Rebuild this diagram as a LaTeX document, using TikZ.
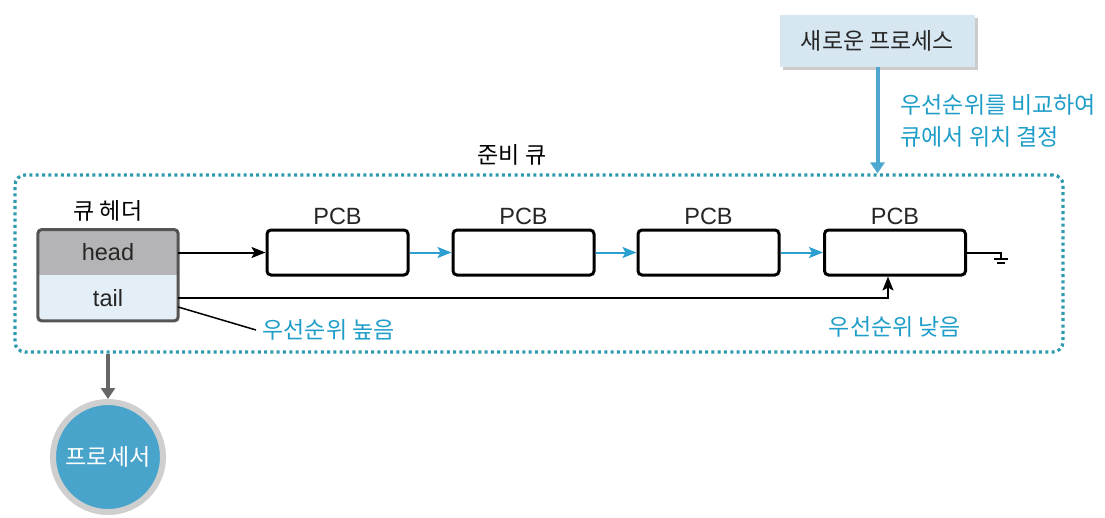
\documentclass[tikz,border=0pt]{standalone}
\usepackage{fontspec}
\setmainfont{Liberation Sans}
\newfontfamily\kr{Noto Sans CJK KR}
\usetikzlibrary{arrows.meta,shadows}
\definecolor{qdot}{HTML}{2E9AAE}
\definecolor{kblue}{HTML}{1E9DC8}
\definecolor{lnblue}{HTML}{2A9FD0}
\definecolor{newbox}{HTML}{D6E7F1}
\definecolor{newarr}{HTML}{4DA7CF}
\definecolor{hdgray}{HTML}{B4B4B6}
\definecolor{tlblue}{HTML}{E3EEF6}
\definecolor{frame}{HTML}{555555}
\definecolor{cpublue}{HTML}{49A4CC}
\definecolor{cpuring}{HTML}{CFCFCF}
\definecolor{darr}{HTML}{666666}
\tikzset{
	txt/.style={font=\fontsize{23.5pt}{28pt}\selectfont,text=black!85},
	ktxt/.style={font=\kr\fontsize{23pt}{32pt}\selectfont},
	pcb/.style={draw,line width=3pt,rounded corners=4pt,minimum width=141pt,minimum height=45pt,label={[txt,label distance=0pt]above:PCB}},
	hcell/.style={fill=#1,minimum width=140pt,minimum height=45.5pt,txt},
	link/.style={line width=2pt,-{Stealth[length=14pt,width=11pt,inset=3pt]}},
	bigtip/.style={line width=4pt,-{Triangle[width=14pt,length=11pt]}}
}
\begin{document}
\begin{tikzpicture}[x=1pt,y=-1pt]
	\useasboundingbox (0,0) rectangle (1105,517);
	\node [draw=qdot,line width=3.2pt,dash pattern=on 3pt off 3.3pt,rounded corners=10pt,minimum width=1048pt,minimum height=177pt] (rq) at (539,263.5) {};
	\node [ktxt] (rqname) at (512,155) {준비 큐};
	
	\node [hcell=hdgray] (head) at (108,252.5) {head};
	\node [hcell=tlblue] (tail) at (108,298) {tail};
	\draw [frame,line width=3pt,rounded corners=4pt] (head.north west) rectangle (tail.south east);
	\node [ktxt] (qhdr) at (108,211) {큐 헤더};
	
	\node [pcb] (p1) at (337.5,252.5) {};
	\node [pcb] (p2) at (523.5,252.5) {};
	\node [pcb] (p3) at (708.5,252.5) {};
	\node [pcb] (p4) at (895,252.5) {};
	
	\draw [link] (head.east) -- (p1.west);
	\foreach \a/\b in {p1/p2,p2/p3,p3/p4}
		\draw [link,lnblue] (\a.east) -- (\b.west);
	
	\coordinate (gnd) at (1001,259);
	\draw [line width=2pt] (p4.east) -| (gnd);
	\draw [line width=2pt] ([xshift=-7pt]gnd) -- ([xshift=7pt]gnd);
	\draw [line width=2pt] ([shift={(-4pt,-4pt)}]gnd) -- ([shift={(4pt,-4pt)}]gnd);
	
	\draw [link] (tail.east) -| ([xshift=-7pt]p4.south);
	\node [ktxt,text=kblue,anchor=west] (hi) at (259,330) {우선순위 높음};
	\node [ktxt,text=kblue] (lo) at (895,327) {우선순위 낮음};
	\draw [line width=1.5pt] ([yshift=-9pt]tail.east) -- ([xshift=-3pt]hi.west);
	
	\node [ktxt,fill=newbox,minimum width=195pt,minimum height=52pt,text=black!85,drop shadow={shadow xshift=3pt,shadow yshift=-3pt,opacity=0.4}] (proc) at (877.5,41) {새로운 프로세스};
	\draw [newarr,bigtip] (proc.south) -- (proc.south |- rq.north);
	\node [ktxt,text=kblue,align=left,anchor=west] (cmp) at (897,121) {우선순위를 비교하여\\큐에서 위치 결정};
	
	\node [ktxt,circle,fill=cpublue,draw=cpuring,line width=6pt,minimum size=110pt,inner sep=0pt,text=white] (cpu) at (108,457) {프로세서};
	\draw [darr,bigtip] (cpu.north |- rq.south) -- (cpu.north);
\end{tikzpicture}
\end{document}
